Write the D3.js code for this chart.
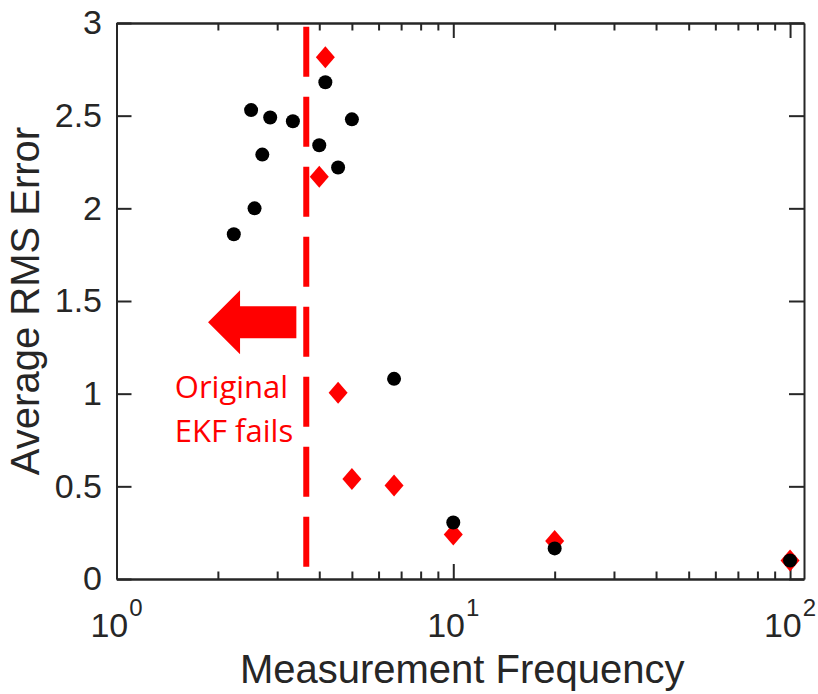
<!DOCTYPE html>
<html>
<head>
<meta charset="utf-8">
<script src="https://d3js.org/d3.v7.min.js"></script>
<style>
  body { margin: 0; background: #fff; }
</style>
</head>
<body>
<div id="graph"></div>
<script>

var freqBlack = [2.23, 2.51, 2.57, 2.71, 2.86, 3.34, 4.0, 4.17, 4.55, 5.0, 6.67, 10, 20, 100];
var rmsBlack  = [1.86, 2.53, 2.00, 2.29, 2.49, 2.47, 2.34, 2.68, 2.22, 2.48, 1.08, 0.305, 0.165, 0.10];

var freqRed = [4.0, 4.17, 4.55, 5.0, 6.67, 10, 20, 100];
var rmsRed  = [2.17, 2.815, 1.005, 0.54, 0.505, 0.24, 0.205, 0.10];

var xMajor = [1, 10, 100];
var xExp = ["0", "1", "2"];
var xMinor = [2, 3, 4, 5, 6, 7, 8, 9, 20, 30, 40, 50, 60, 70, 80, 90];
var yTicks = [0, 0.5, 1, 1.5, 2, 2.5, 3];

// threshold where original EKF fails
var failFreq = 3.66;
var failSpan = [0.065, 2.98];

// annotation anchors (data units)
var arrowTipX = 1.87, arrowTailX = 3.42, arrowY = 1.386;
var noteX = 1.49;
var noteLines = ["Original", "EKF fails"];
var noteY = [0.976, 0.74];

// set the dimensions and margins of the graph
var margin = {top: 23, right: 14, bottom: 115, left: 116.5},
  width = 818 - margin.left - margin.right,
  height = 694 - margin.top - margin.bottom;

var svg = d3.select("#graph")
.append("svg")
  .attr("width", 818)
  .attr("height", 694)
.append("g")
  .attr("transform", "translate(" + margin.left + "," + margin.top + ")");

var x = d3.scaleLog().domain([1, 110]).range([0, width]);
var y = d3.scaleLinear().domain([0, 3]).range([height, 0]);

var axisColor = "#262626";

function styleAxis(g) {
  g.selectAll("path.domain").attr("stroke", axisColor).attr("stroke-width", 2);
  g.selectAll(".tick line").attr("stroke", axisColor).attr("stroke-width", 2);
}

// bottom axis: major + minor ticks pointing inward
svg.append("g")
  .attr("transform", "translate(0," + height + ")")
  .call(d3.axisBottom(x).tickValues(xMajor).tickSizeInner(-15).tickSizeOuter(0).tickFormat(""))
  .call(styleAxis);
svg.append("g")
  .attr("transform", "translate(0," + height + ")")
  .call(d3.axisBottom(x).tickValues(xMinor).tickSizeInner(-7.5).tickSizeOuter(0).tickFormat(""))
  .call(styleAxis);

// top axis
svg.append("g")
  .call(d3.axisTop(x).tickValues(xMajor).tickSizeInner(-15).tickSizeOuter(0).tickFormat(""))
  .call(styleAxis);
svg.append("g")
  .call(d3.axisTop(x).tickValues(xMinor).tickSizeInner(-7.5).tickSizeOuter(0).tickFormat(""))
  .call(styleAxis);

// left axis with labels
var yAxis = svg.append("g")
  .call(d3.axisLeft(y).tickValues(yTicks).tickSizeInner(-15).tickSizeOuter(0).tickPadding(14.5)
    .tickFormat(function(d) { return d3.format("")(d); }))
  .call(styleAxis);
yAxis.selectAll(".tick text")
  .attr("fill", axisColor)
  .style("font-family", "'Liberation Sans', Arial, Helvetica, sans-serif")
  .style("font-size", "34px");

// right axis
svg.append("g")
  .attr("transform", "translate(" + width + ",0)")
  .call(d3.axisRight(y).tickValues(yTicks).tickSizeInner(-15).tickSizeOuter(0).tickFormat(""))
  .call(styleAxis);

// x tick labels as 10^n
var xLab = svg.selectAll(".xlab")
  .data(xMajor)
  .enter()
  .append("text")
    .attr("class", "xlab")
    .attr("x", function(d) { return x(d); })
    .attr("y", height + 58)
    .attr("text-anchor", "middle")
    .attr("fill", axisColor)
    .style("font-family", "'Liberation Sans', Arial, Helvetica, sans-serif")
    .style("font-size", "34px");
xLab.append("tspan").text("10");
xLab.append("tspan")
  .attr("dy", -21)
  .attr("dx", 1)
  .style("font-size", "24px")
  .text(function(d, i) { return xExp[i]; });

// axis titles
svg.append("text")
  .attr("x", width / 2 + 2)
  .attr("y", height + 104)
  .attr("text-anchor", "middle")
  .attr("fill", axisColor)
  .style("font-family", "'Liberation Sans', Arial, Helvetica, sans-serif")
  .style("font-size", "40px")
  .text("Measurement Frequency");

svg.append("text")
  .attr("transform", "translate(" + (39 - margin.left) + "," + (height / 2) + ") rotate(-90)")
  .attr("text-anchor", "middle")
  .attr("fill", axisColor)
  .style("font-family", "'Liberation Sans', Arial, Helvetica, sans-serif")
  .style("font-size", "40px")
  .text("Average RMS Error");

// dashed failure threshold
svg.append("line")
  .attr("x1", x(failFreq))
  .attr("x2", x(failFreq))
  .attr("y1", y(failSpan[1]))
  .attr("y2", y(failSpan[0]))
  .attr("stroke", "#ff0000")
  .attr("stroke-width", 6)
  .attr("stroke-dasharray", "50,20");

// big arrow pointing left
var tipX = x(arrowTipX), tailX = x(arrowTailX), ay = y(arrowY);
var headLen = 32, headHalf = 32, bodyHalf = 16;
svg.append("path")
  .attr("d", d3.line()([
    [tipX, ay],
    [tipX + headLen, ay - headHalf],
    [tipX + headLen, ay - bodyHalf],
    [tailX, ay - bodyHalf],
    [tailX, ay + bodyHalf],
    [tipX + headLen, ay + bodyHalf],
    [tipX + headLen, ay + headHalf]
  ]) + "Z")
  .attr("fill", "#ff0000");

// annotation text
svg.selectAll(".note")
  .data(noteLines)
  .enter()
  .append("text")
    .attr("class", "note")
    .attr("x", x(noteX))
    .attr("y", function(d, i) { return y(noteY[i]); })
    .attr("fill", "#ff0000")
    .style("font-family", "'Open Sans', 'Noto Sans', sans-serif")
    .style("font-size", "31px")
    .text(function(d) { return d; });

// red diamonds
var redData = freqRed.map(function(f, i) { return {f: f, v: rmsRed[i]}; });
svg.selectAll(".dia")
  .data(redData)
  .enter()
  .append("path")
    .attr("class", "dia")
    .attr("d", "M0,-11L9.5,0L0,11L-9.5,0Z")
    .attr("transform", function(d) { return "translate(" + x(d.f) + "," + y(d.v) + ")"; })
    .attr("fill", "#ff0000");

// black circles
var blackData = freqBlack.map(function(f, i) { return {f: f, v: rmsBlack[i]}; });
svg.selectAll(".dot")
  .data(blackData)
  .enter()
  .append("circle")
    .attr("class", "dot")
    .attr("cx", function(d) { return x(d.f); })
    .attr("cy", function(d) { return y(d.v); })
    .attr("r", 7)
    .attr("fill", "#000");

</script>
</body>
</html>
